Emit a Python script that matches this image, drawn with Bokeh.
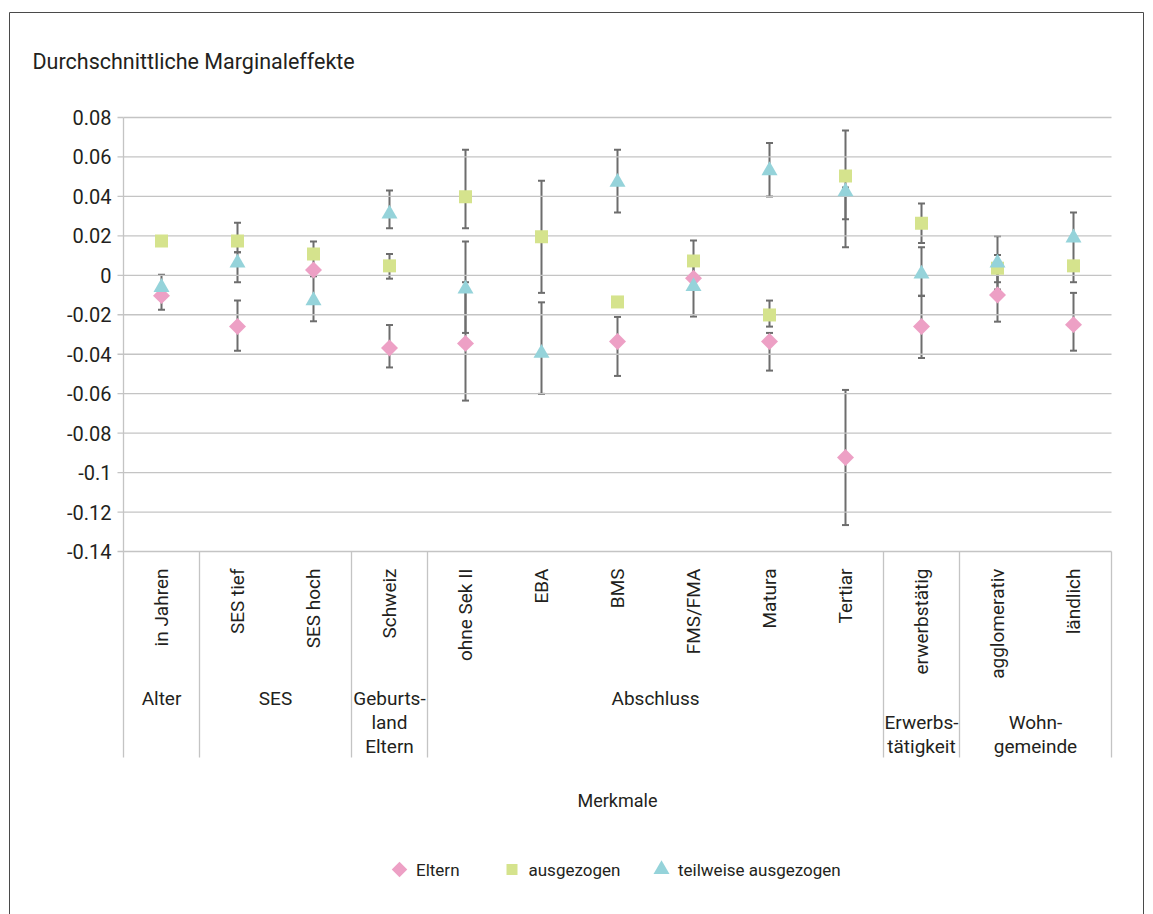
import numpy as np
from bokeh.plotting import figure
from bokeh.models import ColumnDataSource, Range1d, Whisker, TeeHead
from bokeh.core.properties import value
from bokeh.embed import file_html
from bokeh.resources import INLINE

nan = float("nan")

# ---------------- data ----------------
categories = ["in Jahren", "SES tief", "SES hoch", "Schweiz", "ohne Sek II", "EBA", "BMS",
              "FMS/FMA", "Matura", "Tertiar", "erwerbstätig", "agglomerativ", "ländlich"]
groups = ["Alter", "SES", "Geburts-\nland\nEltern", "Abschluss", "Erwerbs-\ntätigkeit", "Wohn-\ngemeinde"]
group_sizes = [1, 2, 1, 6, 1, 2]

eltern = [-0.0103, -0.0260, 0.0027, -0.0368, -0.0345, nan, -0.0335, -0.0015, -0.0335, -0.0924, -0.0260, -0.0100, -0.0250]
eltern_lo = [-0.0175, -0.0382, nan, -0.0467, -0.0635, nan, -0.0510, nan, -0.0483, -0.1266, -0.0419, -0.0235, -0.0382]
eltern_hi = [0.0003, -0.0128, nan, -0.0252, -0.0035, nan, -0.0211, nan, -0.0292, -0.0581, -0.0103, 0.0035, -0.0089]

ausgezogen = [0.0174, 0.0174, 0.0108, 0.0048, 0.0398, 0.0195, -0.0135, 0.0073, -0.0201, 0.0504, 0.0264, 0.0036, 0.0048]
ausgezogen_lo = [nan, 0.0117, 0.0045, -0.0017, 0.0238, -0.0089, nan, -0.0030, -0.0260, 0.0284, 0.0164, -0.0035, -0.0035]
ausgezogen_hi = [nan, 0.0267, 0.0171, 0.0108, 0.0636, 0.0479, nan, 0.0176, -0.0128, 0.0734, 0.0364, 0.0103, 0.0062]

teilweise = [-0.0061, 0.0063, -0.0128, 0.0311, -0.0069, -0.0395, 0.0472, -0.0056, 0.0531, 0.0424, 0.0007, 0.0063, 0.0190]
teilweise_lo = [nan, -0.0035, -0.0233, 0.0238, -0.0292, -0.0601, 0.0318, -0.0209, 0.0399, 0.0142, -0.0105, -0.0072, 0.0062]
teilweise_hi = [nan, 0.0117, -0.0005, 0.0430, 0.0171, -0.0137, 0.0636, 0.0097, 0.0671, 0.0445, 0.0142, 0.0198, 0.0318]

y_ticks = [0.08, 0.06, 0.04, 0.02, 0.0, -0.02, -0.04, -0.06, -0.08, -0.1, -0.12, -0.14]
y_tick_labels = ["0.08", "0.06", "0.04", "0.02", "0", "-0.02", "-0.04", "-0.06", "-0.08", "-0.1", "-0.12", "-0.14"]

series_names = ["Eltern", "ausgezogen", "teilweise ausgezogen"]
title_text = "Durchschnittliche Marginaleffekte"
x_title = "Merkmale"

# ---------------- layout constants (pixels) ----------------
FONT = "Roboto"
TXT = "#231f20"
GRID = "#c4c4c4"
ERR = "#6d6d6d"
W, H = 1153, 914
PLOT_L, PLOT_R = 123, 1111      # plotting area horizontally
PLOT_T, PLOT_B = 117, 551       # top / bottom tick positions
LABEL_DEPTH = 206               # depth of category label area below the axis
LEGEND_Y = 869
LEGEND_MARKER_X = [399, 511.5, 661]
LEGEND_TEXT_GAP = 16.5

n = len(categories)
y_max, y_min = max(y_ticks), min(y_ticks)
xpu = (PLOT_R - PLOT_L) / n
ypu = (PLOT_B - PLOT_T) / (y_max - y_min)


def X(px):
    return (px - PLOT_L) / xpu


def Y(py):
    return y_max - (py - PLOT_T) / ypu


p = figure(width=W, height=H, output_backend="svg", toolbar_location=None,
           x_range=Range1d(X(0), X(W)), y_range=Range1d(Y(H), Y(0)),
           x_axis_type=None, y_axis_type=None,
           min_border=0, outline_line_color=None,
           background_fill_color="white", border_fill_color="white")
p.grid.visible = False

xc = np.arange(n) + 0.5
y_label_bottom = Y(PLOT_B + LABEL_DEPTH)

# outer border
p.quad(left=[X(9)], right=[X(1143)], top=[Y(12)], bottom=[Y(H + 40)],
       fill_color=None, line_color="#4a4a4a", line_width=1)

# horizontal gridlines
p.segment(x0=[0] * len(y_ticks), y0=y_ticks, x1=[n] * len(y_ticks), y1=y_ticks,
          line_color=GRID, line_width=1.3)

# y axis line + group separators
bounds = np.concatenate([[0], np.cumsum(group_sizes)]).astype(float)
p.segment(x0=[0], y0=[y_max], x1=[0], y1=[y_min], line_color=GRID, line_width=1.3)
p.segment(x0=bounds, y0=[y_min] * len(bounds), x1=bounds, y1=[y_label_bottom] * len(bounds),
          line_color=GRID, line_width=1.3)

# y ticks and labels
p.ray(x=[0] * len(y_ticks), y=y_ticks, length=6, length_units="screen", angle=np.pi,
      line_color=GRID, line_width=1.3)
p.text(x=[0] * len(y_ticks), y=y_ticks, text=y_tick_labels, x_offset=-12,
       text_align="right", text_baseline="middle", text_font=value(FONT),
       text_font_size="20px", text_color=TXT)

# category labels (rotated)
p.text(x=xc, y=[y_min] * n, text=categories, angle=np.pi / 2, y_offset=17,
       text_align="right", text_baseline="middle", text_font=value(FONT),
       text_font_size="19px", text_color=TXT)

# group labels
gx, gy, gt, goff = [], [], [], []
for i, g in enumerate(groups):
    lines = g.split("\n")
    center = (bounds[i] + bounds[i + 1]) / 2
    rows = [0] if len(lines) == 1 else list(range(3 - len(lines), 3))
    for r, line in zip(rows, lines):
        gx.append(center); gy.append(y_min); gt.append(line); goff.append(147 + 24 * r)
p.text(x=gx, y=gy, text=gt, y_offset=goff,
       text_align="center", text_baseline="middle", text_font=value(FONT),
       text_font_size="19px", text_color=TXT)

# axis title and chart title
p.text(x=[n / 2], y=[y_min], text=[x_title], y_offset=249,
       text_align="center", text_baseline="middle", text_font=value(FONT),
       text_font_size="18px", text_color=TXT)
p.text(x=[X(32)], y=[Y(61)], text=[title_text],
       text_align="left", text_baseline="middle", text_font=value(FONT),
       text_font_size="21.5px", text_color=TXT)

# error bars
for lo, hi in [(eltern_lo, eltern_hi), (ausgezogen_lo, ausgezogen_hi), (teilweise_lo, teilweise_hi)]:
    lo_a, hi_a = np.array(lo), np.array(hi)
    m = ~np.isnan(lo_a) & ~np.isnan(hi_a)
    src = ColumnDataSource(dict(x=xc[m], lo=lo_a[m], hi=hi_a[m]))
    w = Whisker(source=src, base="x", lower="lo", upper="hi", dimension="height",
                line_color=ERR, line_width=2,
                upper_head=TeeHead(size=7, line_color=ERR, line_width=2),
                lower_head=TeeHead(size=7, line_color=ERR, line_width=2))
    w.level = "underlay"
    p.add_layout(w)

# markers
colors = ["#eda0c5", "#d5e38d", "#95d3da"]
marker_specs = [dict(marker="square", angle=np.pi / 4, size=12),
                dict(marker="square", angle=0.0, size=13),
                dict(marker="triangle", angle=0.0, size=16)]
legend_sizes = [11, 11, 16]
for vals, col, spec in zip([eltern, ausgezogen, teilweise], colors, marker_specs):
    p.scatter(x=xc, y=vals, fill_color=col, line_color=None, **spec)

# legend (drawn as glyphs so the diamond keeps its orientation)
for name, col, spec, sz, mx in zip(series_names, colors, marker_specs, legend_sizes, LEGEND_MARKER_X):
    p.scatter(x=[X(mx)], y=[Y(LEGEND_Y)], marker=spec["marker"], angle=spec["angle"], size=sz,
              fill_color=col, line_color=None)
    p.text(x=[X(mx + LEGEND_TEXT_GAP)], y=[Y(LEGEND_Y)], text=[name],
           text_align="left", text_baseline="middle", text_font=value(FONT),
           text_font_size="17px", text_color=TXT)

open("out.html", "w").write(file_html(p, INLINE))
